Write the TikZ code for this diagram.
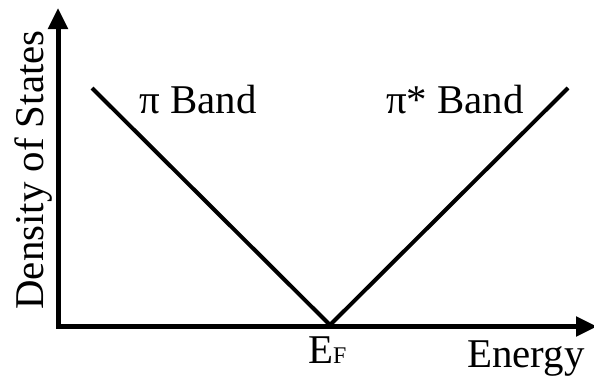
\documentclass[tikz,border=0pt]{standalone}
\usepackage{fontspec}
\setmainfont{Liberation Serif}
\newfontfamily\timesfont{Liberation Serif}
\usetikzlibrary{arrows.meta}
\tikzset{
  axis/.style={line width=5bp, line join=miter, {Triangle[length=21bp,width=19bp]}-{Triangle[length=21bp,width=19bp]}},
  band/.style={line width=4bp, line join=miter},
  lbl/.style={inner sep=0pt, font=\timesfont\fontsize{41}{48}\selectfont}
}
\begin{document}
\begin{tikzpicture}[x=1bp,y=-1bp]
\useasboundingbox (0,0) rectangle (594,381);
\coordinate (ytip) at (58,8);
\coordinate (orig) at (58,326.5);
\coordinate (xtip) at (597,326.5);
\coordinate (ltop) at (92,88);
\coordinate (fermi) at (330,325);
\coordinate (rtop) at (568,88);
\draw[axis] (ytip) -- (orig) -- (xtip);
\draw[band] (ltop) -- (fermi) -- (rtop);
\node[lbl, anchor=base] (pi) at (198,113) {π Band};
\node[lbl, anchor=base] (pistar) at (455,113) {π* Band};
\node[lbl, anchor=base west] (ef) at (308,363) {E\fontsize{24}{24}\selectfont F};
\node[lbl, anchor=base west] (energy) at (467,367) {Energy};
\node[lbl, anchor=base, rotate=90] (dos) at (43,170) {Density of States};
\end{tikzpicture}
\end{document}
